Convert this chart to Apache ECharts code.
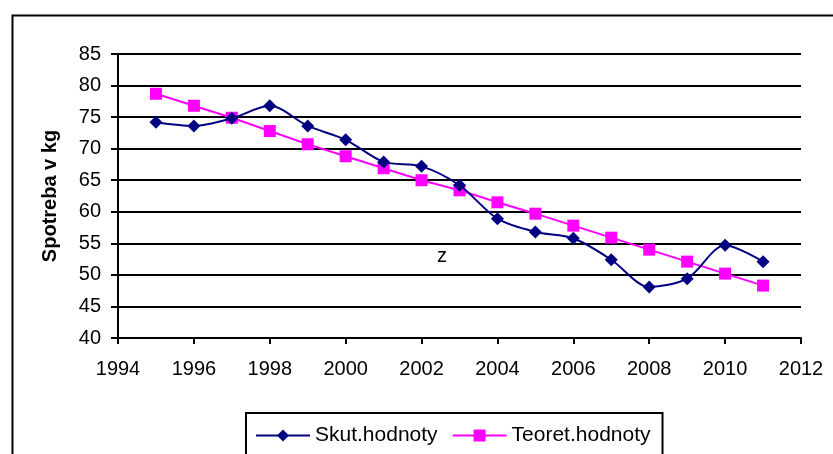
<!DOCTYPE html>
<html>
<head>
<meta charset="utf-8">
<script src="https://cdn.jsdelivr.net/npm/echarts@6/dist/echarts.min.js"></script>
<style>html,body{margin:0;padding:0;background:#fff;}#c{width:833px;height:454px;}</style>
</head>
<body>
<div id="c"></div>
<script>
const years = [1995,1996,1997,1998,1999,2000,2001,2002,2003,2004,2005,2006,2007,2008,2009,2010,2011];
const skutValues = [74.2,73.6,74.8,76.8,73.6,71.4,67.9,67.2,64.2,58.9,56.8,55.8,52.4,48.1,49.4,54.7,52.1];
const teoretValues = [78.7,76.8,74.9,72.8,70.7,68.8,66.9,65.0,63.4,61.5,59.7,57.8,55.9,54.0,52.1,50.2,48.3];
const seriesNames = ['Skut.hodnoty','Teoret.hodnoty'];
const yAxisTitle = 'Spotreba v kg';
const noteText = 'z';

const font = 'Liberation Sans, Arial, sans-serif';
const chart = echarts.init(document.getElementById('c'), null, {renderer:'canvas'});
chart.setOption({
  animation: false,
  backgroundColor: '#fff',
  grid: {left: 118, right: 32, top: 54, bottom: 116, containLabel: false},
  xAxis: {
    type: 'value', min: 1994, max: 2012, interval: 2,
    axisLine: {show: true, onZero: false, lineStyle: {color: '#000', width: 2}},
    axisTick: {show: true, inside: false, length: 6, lineStyle: {color: '#000', width: 2}},
    axisLabel: {color: '#000', fontFamily: font, fontSize: 20, margin: 21,
      formatter: function (v) { return String(v); }},
    splitLine: {show: false}
  },
  yAxis: {
    type: 'value', min: 40, max: 85, interval: 5,
    name: yAxisTitle, nameLocation: 'middle', nameGap: 58, nameRotate: 90,
    nameTextStyle: {color: '#000', fontFamily: font, fontSize: 20, fontWeight: 'bold'},
    axisLine: {show: true, lineStyle: {color: '#000', width: 2}},
    axisTick: {show: true, inside: false, length: 7, lineStyle: {color: '#000', width: 2}},
    axisLabel: {color: '#000', fontFamily: font, fontSize: 20, margin: 17},
    splitLine: {show: true, lineStyle: {color: '#000', width: 2}}
  },
  legend: {
    left: 246, top: 413,
    itemWidth: 54, itemHeight: 15, itemGap: 14,
    padding: [12, 12, 20, 9],
    borderColor: '#000', borderWidth: 2,
    textStyle: {color: '#000', fontFamily: font, fontSize: 21},
    data: seriesNames
  },
  graphic: [
    {type: 'rect', left: 10, top: 13, shape: {width: 840, height: 470},
     style: {fill: 'none', stroke: '#000', lineWidth: 2}, z: -1},
    {type: 'text', x: 442, y: 256,
     style: {text: noteText, fill: '#000', font: '20px ' + font, align: 'center', verticalAlign: 'middle'}}
  ],
  series: [
    {
      name: seriesNames[0], type: 'line', smooth: 0.3,
      data: years.map((y, i) => [y, skutValues[i]]),
      symbol: 'diamond', symbolSize: 13,
      itemStyle: {color: '#000080'},
      lineStyle: {color: '#000080', width: 2}, z: 3
    },
    {
      name: seriesNames[1], type: 'line',
      data: years.map((y, i) => [y, teoretValues[i]]),
      symbol: 'rect', symbolSize: 12,
      itemStyle: {color: '#FF00FF'},
      lineStyle: {color: '#FF00FF', width: 2}, z: 2
    }
  ]
});
</script>
</body>
</html>
